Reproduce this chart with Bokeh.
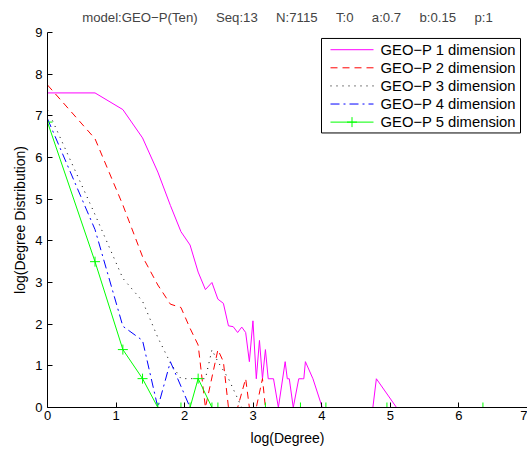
from bokeh.plotting import figure
from bokeh.models import Range1d, FixedTicker
from bokeh.core.properties import value
from bokeh.embed import file_html
from bokeh.resources import INLINE

# ---- data (natural log of degree vs log of count) ----
title_parts = ["model:GEO\u2212P(Ten)", "Seq:13", "N:7115", "T:0", "a:0.7", "b:0.15", "p:1"]
labels = ["GEO\u2212P 1 dimension", "GEO\u2212P 2 dimension", "GEO\u2212P 3 dimension",
          "GEO\u2212P 4 dimension", "GEO\u2212P 5 dimension"]
colors = ["#ff00ff", "#ff0000", "black", "#0000ff", "#00ff00"]
dashes = ["solid", "7 5", "1 5", "9 4 2 4", "solid"]

x1 = [0, 0.693, 1.099, 1.386, 1.609, 1.792, 1.946, 2.079, 2.197, 2.303, 2.398, 2.485, 2.565,
      2.639, 2.708, 2.773, 2.833, 2.890, 2.944, 2.996, 3.045, 3.091, 3.135, 3.178, 3.219,
      3.296, 3.367, 3.466, 3.497, 3.526, 3.584, 3.664, 3.714, 3.738, 3.761, 3.871, 4.007,
      4.745, 4.796, 5.09, 7.0]
y1 = [7.55, 7.55, 7.15, 6.47, 5.65, 4.85, 4.22, 3.90, 3.25, 2.83, 3.00, 2.60, 2.50,
      1.96, 1.94, 1.80, 1.93, 1.80, 1.10, 2.08, 0.69, 1.61, 0.69, 1.39, 0.69,
      0.69, 0.0, 1.10, 0.69, 0.69, 0.0, 0.69, 0.69, 0.69, 1.10, 0.69, 0.0,
      0.0, 0.69, 0.0, 0.0]

x2 = [0, 0.693, 1.099, 1.386, 1.609, 1.792, 1.946, 2.079, 2.197, 2.303, 2.485, 2.565, 2.639,
      2.773, 2.890, 2.944, 3.045, 3.135, 3.178, 3.40]
y2 = [7.74, 6.45, 4.86, 3.62, 2.94, 2.48, 2.40, 1.90, 1.50, 0.0, 1.386, 1.10, 0.0,
      0.0, 0.693, 0.0, 0.0, 0.693, 0.0, 0.0]

x3 = [0, 0.693, 1.099, 1.386, 1.609, 1.792, 1.946, 2.079, 2.197, 2.303, 2.398, 2.485, 2.639,
      2.833, 3.40]
y3 = [7.15, 4.63, 3.10, 2.55, 1.68, 1.07, 0.693, 0.693, 0.693, 0.693, 1.386, 1.099, 0.693,
      0.0, 0.0]

x4 = [0, 0.693, 1.099, 1.386, 1.609, 1.792, 2.079, 2.40]
y4 = [6.93, 4.27, 1.95, 1.609, 0.0, 1.099, 0.0, 0.0]

x5 = [0, 0.693, 1.099, 1.386, 1.609, 1.946, 2.079, 2.197, 2.398, 2.485, 3.178, 3.689, 4.06,
      4.95, 6.35]
y5 = [6.85, 3.50, 1.39, 0.693, 0.0, 0.0, 0.0, 0.693, 0.0, 0.0, 0.0, 0.0, 0.0, 0.0, 0.0]

x_ticks = [0, 1, 2, 3, 4, 5, 6, 7]
y_ticks = [0, 1, 2, 3, 4, 5, 6, 7, 8, 9]

FONT = "Liberation Sans"
W, H = 527, 452
BL, BR, BT, BB = 47, 0, 30, 45
XMAX, YMAX = 7, 9

p = figure(width=W, height=H, output_backend="svg", toolbar_location=None,
           x_range=Range1d(0, XMAX), y_range=Range1d(0, YMAX),
           min_border_left=BL, min_border_right=BR, min_border_top=BT, min_border_bottom=BB,
           title=("\u00a0" * 5).join(title_parts))
p.title.align = "center"
p.title.text_font = FONT
p.title.text_font_size = "13.2px"
p.title.text_font_style = "normal"
p.title.standoff = 15
p.title.offset = 0
p.outline_line_color = None
p.xgrid.grid_line_color = None
p.ygrid.grid_line_color = None
p.background_fill_color = "white"
p.border_fill_color = "white"

for ax in (p.xaxis[0], p.yaxis[0]):
    ax.major_tick_in = 5
    ax.major_tick_out = 0
    ax.minor_tick_in = 0
    ax.minor_tick_out = 0
    ax.axis_line_color = "black"
    ax.major_tick_line_color = "black"
    ax.major_label_text_font = FONT
    ax.major_label_text_font_size = "13px"
    ax.major_label_text_color = "black"
    ax.axis_label_text_font = FONT
    ax.axis_label_text_font_size = "14px"
    ax.axis_label_text_font_style = "normal"
    ax.axis_label_text_color = "black"

p.xaxis.ticker = FixedTicker(ticks=x_ticks)
p.yaxis.ticker = FixedTicker(ticks=y_ticks)
p.xaxis.axis_label = "log(Degree)"
p.yaxis.axis_label = "log(Degree Distribution)"
p.xaxis.major_label_standoff = 3
p.yaxis.major_label_standoff = 5
p.xaxis.axis_label_standoff = 7
p.yaxis.axis_label_standoff = 4

series = [(x1, y1), (x2, y2), (x3, y3), (x4, y4), (x5, y5)]
for (xs, ys), c, d in zip(series, colors, dashes):
    p.line(xs, ys, line_color=c, line_width=1, line_dash=d)
p.scatter(x5, y5, marker="cross", size=10, line_color="#00ff00", line_width=1)

# ---- legend drawn by hand (page-pixel layout converted through the frame scale) ----
fx0, fy0 = BL, H - BB                      # frame bottom-left in page pixels
kx = (W - BL - BR) / XMAX
ky = (H - BT - BB) / YMAX
dx = lambda px: (px - fx0) / kx
dy = lambda py: (fy0 - py) / ky

box_l, box_r, box_t, box_b = 321, 520, 36, 131
row_y = [47.3, 65.5, 83.7, 101.9, 120.1]
glyph_x0, glyph_x1, text_x = 330, 373, 380

p.quad(left=[dx(box_l)], right=[dx(box_r)], top=[dy(box_t)], bottom=[dy(box_b)],
       fill_color="white", line_color="black", line_width=1)
for ry, c, d in zip(row_y, colors, dashes):
    p.line([dx(glyph_x0), dx(glyph_x1)], [dy(ry), dy(ry)], line_color=c, line_width=1,
           line_dash=d)
p.scatter([dx((glyph_x0 + glyph_x1) / 2)], [dy(row_y[4])], marker="cross", size=10,
          line_color="#00ff00", line_width=1)
p.text(x=[dx(text_x)] * 5, y=[dy(r) for r in row_y], text=labels,
       text_font=value(FONT), text_font_size="14.8px", text_baseline="middle",
       text_align="left", text_color="black")

open("out.html", "w").write(file_html(p, INLINE))
